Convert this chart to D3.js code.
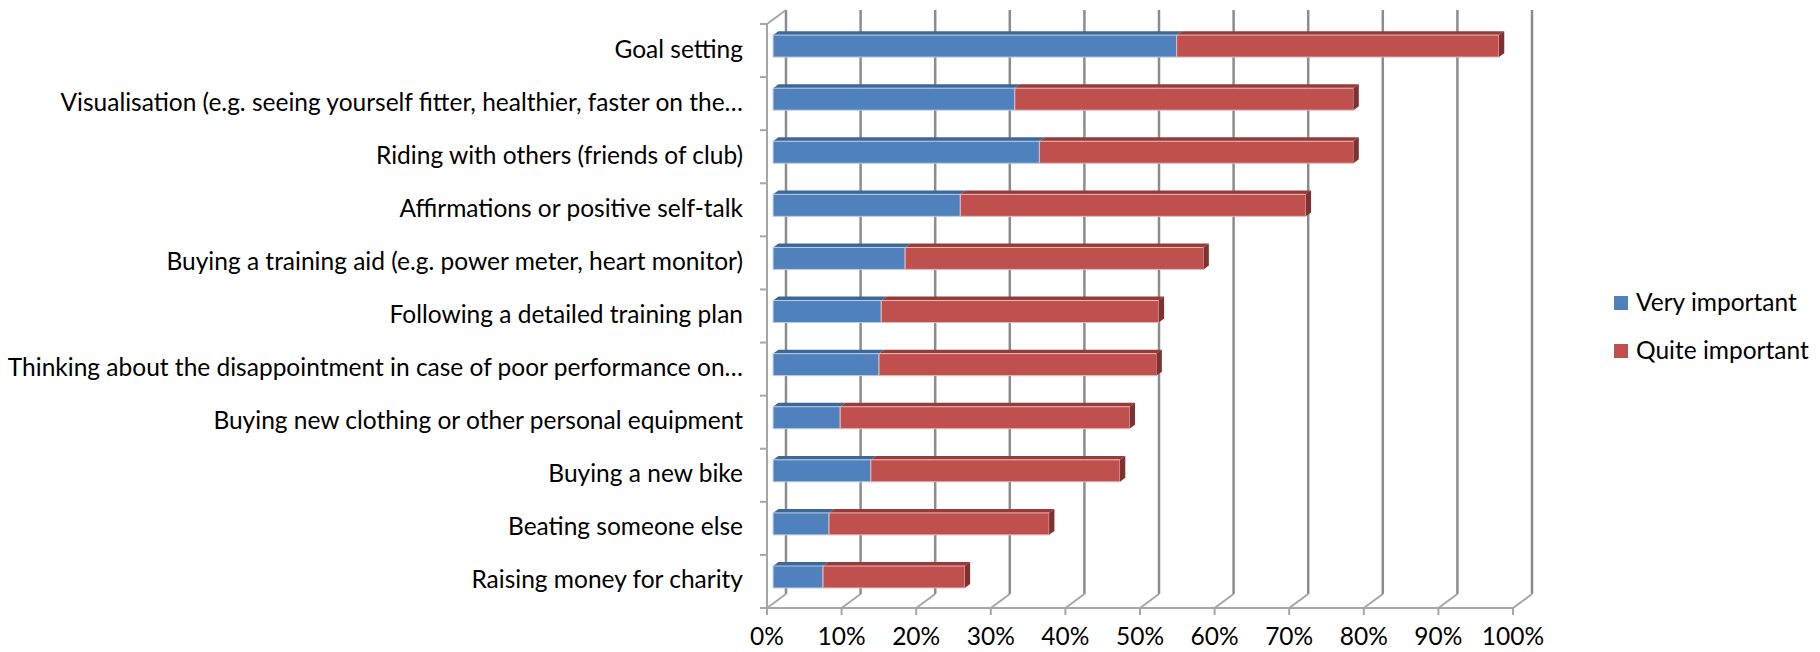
<!DOCTYPE html>
<html><head><meta charset="utf-8">
<script src="https://cdn.jsdelivr.net/npm/d3@7"></script>
<style>
body{margin:0;background:#fff;overflow:hidden}
text{font-family:Lato, "Open Sans", sans-serif; fill:#000}
</style>
</head><body>
<svg id="chart" width="1820" height="652"></svg>
<script>
const categories = [
  "Goal setting",
  "Visualisation (e.g. seeing yourself fitter, healthier, faster on the…",
  "Riding with others (friends of club)",
  "Affirmations or positive self-talk",
  "Buying a training aid (e.g. power meter, heart monitor)",
  "Following a detailed training plan",
  "Thinking about the disappointment in case of poor performance on…",
  "Buying new clothing or other personal equipment",
  "Buying a new bike",
  "Beating someone else",
  "Raising money for charity"
];
const seriesNames = ["Very important", "Quite important"];
const veryImportant  = [0.541, 0.324, 0.357, 0.251, 0.177, 0.145, 0.142, 0.090, 0.131, 0.075, 0.067];
const quiteImportant = [0.432, 0.454, 0.421, 0.463, 0.400, 0.372, 0.372, 0.388, 0.334, 0.295, 0.190];
const tickValues = [0, 0.1, 0.2, 0.3, 0.4, 0.5, 0.6, 0.7, 0.8, 0.9, 1.0];
const tickLabels = ["0%", "10%", "20%", "30%", "40%", "50%", "60%", "70%", "80%", "90%", "100%"];

const colors = {
  "Very important":  {front: "#4F81BD", top: "#3D6797", side: "#2F5178", edge: "#B8CCE4"},
  "Quite important": {front: "#C0504D", top: "#953C3A", side: "#7E3130", edge: "#E6B9B8"}
};

const svg = d3.select("#chart");
const plot = {left: 767, right: 1513, top: 24, bottom: 608};
const depth = {dx: 19, dy: -14};
const f1 = 0.32, f2 = 0.60;
const fontSize = 24.5;

const x = d3.scaleLinear().domain([0, 1]).range([plot.left, plot.right]);
const y = d3.scaleBand().domain(categories).range([plot.top, plot.bottom]);
const bw = y.bandwidth();

// Back wall gridlines
const grid = svg.append("g");
grid.selectAll("line.g").data(tickValues).join("line")
  .attr("x1", d => x(d) + depth.dx).attr("x2", d => x(d) + depth.dx)
  .attr("y1", plot.top + depth.dy).attr("y2", plot.bottom + depth.dy)
  .attr("stroke", "#8C8C8C").attr("stroke-width", 2.5);

// Floor diagonals
grid.selectAll("line.f").data(tickValues).join("line")
  .attr("x1", d => x(d)).attr("y1", plot.bottom)
  .attr("x2", d => x(d) + depth.dx).attr("y2", plot.bottom + depth.dy)
  .attr("stroke", "#A6A6A6").attr("stroke-width", 2);

// Front floor edge + ticks
grid.append("line").attr("x1", x(0)).attr("x2", x(1))
  .attr("y1", plot.bottom).attr("y2", plot.bottom)
  .attr("stroke", "#A6A6A6").attr("stroke-width", 2);
grid.selectAll("line.t").data(tickValues).join("line")
  .attr("x1", d => x(d)).attr("x2", d => x(d))
  .attr("y1", plot.bottom).attr("y2", plot.bottom + 7)
  .attr("stroke", "#A6A6A6").attr("stroke-width", 2);

// Left wall
grid.append("line").attr("x1", x(0)).attr("x2", x(0))
  .attr("y1", plot.top).attr("y2", plot.bottom)
  .attr("stroke", "#A6A6A6").attr("stroke-width", 2);
grid.append("line").attr("x1", x(0)).attr("y1", plot.top)
  .attr("x2", x(0) + depth.dx).attr("y2", plot.top + depth.dy)
  .attr("stroke", "#A6A6A6").attr("stroke-width", 2);
const boundaries = categories.map(c => y(c)).concat([plot.bottom]);
grid.selectAll("line.ct").data(boundaries).join("line")
  .attr("x1", x(0) - 7).attr("x2", x(0))
  .attr("y1", d => d).attr("y2", d => d)
  .attr("stroke", "#A6A6A6").attr("stroke-width", 2);

// Stacked data
const table = categories.map((c, i) => ({cat: c, "Very important": veryImportant[i], "Quite important": quiteImportant[i]}));
const stacked = d3.stack().keys(seriesNames)(table);

const ox = depth.dx * f1, oy = depth.dy * f1;
const tdx = depth.dx * (f2 - f1), tdy = depth.dy * (f2 - f1);
const faceH = bw * 0.414;

const bars = svg.append("g");
stacked.forEach((layer, li) => {
  const col = colors[layer.key];
  const g = bars.append("g");
  layer.forEach(d => {
    const cy = y(d.data.cat) + bw / 2 + oy;
    const xa = x(d[0]) + ox, xb = x(d[1]) + ox;
    const yt = cy - faceH / 2, yb = cy + faceH / 2;
    g.append("polygon")
      .attr("points", [[xa, yt], [xb, yt], [xb + tdx, yt + tdy], [xa + tdx, yt + tdy]].map(p => p.join(",")).join(" "))
      .attr("fill", col.top);
    g.append("rect").attr("x", xa).attr("y", yt).attr("width", xb - xa).attr("height", faceH)
      .attr("fill", col.front).attr("stroke", col.edge).attr("stroke-width", 1);
    if (li === stacked.length - 1) {
      g.append("polygon")
        .attr("points", [[xb, yt], [xb + tdx, yt + tdy], [xb + tdx, yb + tdy], [xb, yb]].map(p => p.join(",")).join(" "))
        .attr("fill", col.side);
    }
  });
});

// Category labels
svg.append("g").selectAll("text").data(categories).join("text")
  .attr("x", 743).attr("y", d => y(d) + bw / 2 + 7)
  .attr("text-anchor", "end").attr("font-size", fontSize)
  .text(d => d);

// Value axis labels
svg.append("g").selectAll("text").data(tickValues).join("text")
  .attr("x", d => x(d)).attr("y", 645)
  .attr("text-anchor", "middle").attr("font-size", fontSize)
  .text((d, i) => tickLabels[i]);

// Legend
const legend = svg.append("g").attr("transform", "translate(1614,0)");
const legY = d3.scalePoint().domain(seriesNames).range([303, 351]);
legend.selectAll("rect").data(seriesNames).join("rect")
  .attr("x", 0).attr("y", d => legY(d) - 7).attr("width", 14).attr("height", 14)
  .attr("fill", d => colors[d].front);
legend.selectAll("text").data(seriesNames).join("text")
  .attr("x", 22).attr("y", d => legY(d) + 8)
  .attr("font-size", fontSize).text(d => d);
</script>
</body></html>
